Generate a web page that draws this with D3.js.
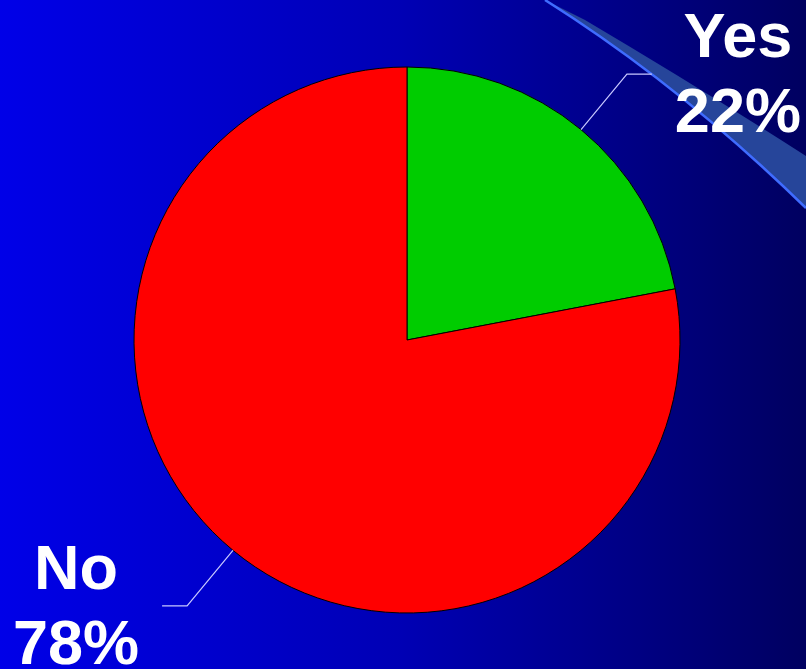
<!DOCTYPE html>
<html>
<head>
<meta charset="utf-8">
<script src="https://cdn.jsdelivr.net/npm/d3@7"></script>
<style>
  html, body { margin: 0; padding: 0; overflow: hidden; }
  svg { display: block; }
</style>
</head>
<body>
<script>
const categories = ["Yes", "No"];
const values = [22, 78];
const sliceColors = ["#00cc00", "#ff0000"];

const width = 806;
const height = 669;
const cx = 407;
const cy = 340;
const radius = 273;

const svg = d3
  .select("body")
  .append("svg")
  .attr("width", width)
  .attr("height", height);

// background gradient, bright blue on the left fading to navy
const defs = svg.append("defs");
const grad = defs
  .append("linearGradient")
  .attr("id", "bg")
  .attr("x1", "0%")
  .attr("x2", "100%")
  .attr("y1", "0%")
  .attr("y2", "0%");
grad.append("stop").attr("offset", "0%").attr("stop-color", "#0000e8");
grad.append("stop").attr("offset", "50%").attr("stop-color", "#0000b4");
grad.append("stop").attr("offset", "100%").attr("stop-color", "#000060");

svg
  .append("rect")
  .attr("width", width)
  .attr("height", height)
  .attr("fill", "url(#bg)");

// decorative swoosh in the top right corner
svg
  .append("path")
  .attr("d", "M545,0 Q680,85 806,208 L806,156 Q700,88 585,20 Z")
  .attr("fill", "#26459a");
svg
  .append("path")
  .attr("d", "M545,0 Q680,85 806,208")
  .attr("fill", "none")
  .attr("stroke", "#3f6cff")
  .attr("stroke-width", 2.5);

const pie = d3
  .pie()
  .sort(null)
  .value((d) => d);

const arcs = pie(values);

const arc = d3.arc().innerRadius(0).outerRadius(radius);

const g = svg.append("g").attr("transform", `translate(${cx},${cy})`);

g.selectAll("path.slice")
  .data(arcs)
  .join("path")
  .attr("class", "slice")
  .attr("d", arc)
  .attr("fill", (d, i) => sliceColors[i])
  .attr("stroke", "#000")
  .attr("stroke-width", 1);

// leader lines and labels
const elbowR = 345;
const tail = 25;

arcs.forEach((d, i) => {
  const a = (d.startAngle + d.endAngle) / 2;
  const p0 = [Math.sin(a) * radius, -Math.cos(a) * radius];
  const p1 = [Math.sin(a) * elbowR, -Math.cos(a) * elbowR];
  const side = Math.sin(a) >= 0 ? 1 : -1;
  const p2 = [p1[0] + side * tail, p1[1]];

  g.append("polyline")
    .attr("points", [p0, p1, p2].map((p) => p.join(",")).join(" "))
    .attr("fill", "none")
    .attr("stroke", "#c8c8ff")
    .attr("stroke-width", 1.2);

  const tx = p2[0] + side * 86;
  const label = g
    .append("text")
    .attr("text-anchor", "middle")
    .attr("fill", "#fff")
    .style("font-family", "'Liberation Sans', Arial, sans-serif")
    .style("font-weight", "bold")
    .style("font-size", "63px");
  label
    .append("tspan")
    .attr("x", tx)
    .attr("y", p1[1] - 17)
    .text(categories[i]);
  label
    .append("tspan")
    .attr("x", tx)
    .attr("y", p1[1] + 58)
    .text(`${values[i]}%`);
});
</script>
</body>
</html>
